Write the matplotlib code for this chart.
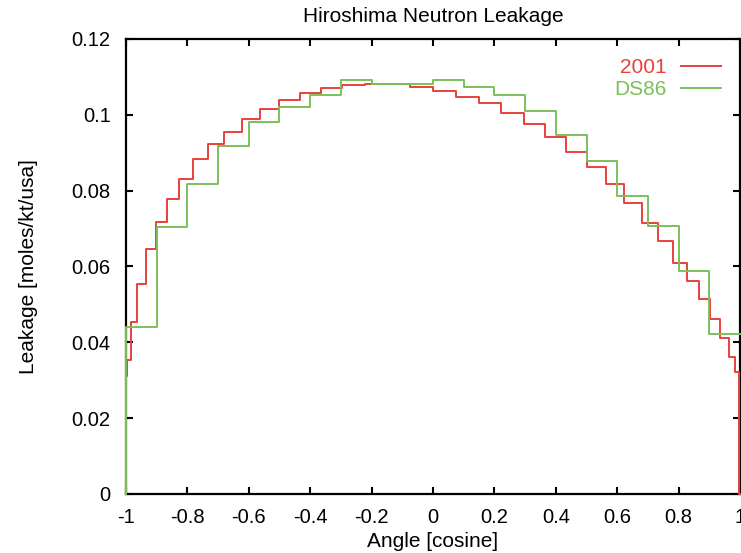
import matplotlib
matplotlib.use("Agg")
import matplotlib.pyplot as plt

# bin edges (cosine of angle) and leakage values
edges_2001 = [-1, -0.997, -0.982, -0.963, -0.935, -0.901, -0.866, -0.826, -0.782, -0.733,
              -0.680, -0.623, -0.563, -0.5, -0.434, -0.365, -0.295, -0.223, -0.149, -0.075,
              0, 0.075, 0.149, 0.223, 0.295, 0.365, 0.434, 0.5, 0.563, 0.623,
              0.680, 0.733, 0.782, 0.826, 0.866, 0.901, 0.935, 0.963, 0.982, 0.997, 1]
leak_2001 = [0.031, 0.0353, 0.0453, 0.0555, 0.0646, 0.0718, 0.0777, 0.0832, 0.0883, 0.0922,
             0.0956, 0.0988, 0.1015, 0.1038, 0.1058, 0.1070, 0.1078, 0.1082, 0.1082, 0.1073,
             0.1063, 0.1048, 0.1030, 0.1005, 0.0975, 0.0942, 0.0903, 0.0863, 0.0817, 0.0768,
             0.0716, 0.0667, 0.0610, 0.0563, 0.0513, 0.0461, 0.0411, 0.0362, 0.0323, 0.0]

edges_ds86 = [-1, -0.9, -0.8, -0.7, -0.6, -0.5, -0.4, -0.3, -0.2, -0.1,
              0, 0.1, 0.2, 0.3, 0.4, 0.5, 0.6, 0.7, 0.8, 0.9, 1]
leak_ds86 = [0.0441, 0.0703, 0.0817, 0.0919, 0.0981, 0.1021, 0.1052, 0.1093, 0.1082, 0.1082,
             0.1093, 0.1073, 0.1052, 0.1011, 0.0947, 0.0877, 0.0787, 0.0707, 0.0588, 0.0423]

xticks = [-1, -0.8, -0.6, -0.4, -0.2, 0, 0.2, 0.4, 0.6, 0.8, 1]
xticklabels = ["-1", "-0.8", "-0.6", "-0.4", "-0.2", "0", "0.2", "0.4", "0.6", "0.8", "1"]
yticks = [0, 0.02, 0.04, 0.06, 0.08, 0.1, 0.12]
yticklabels = ["0", "0.02", "0.04", "0.06", "0.08", "0.1", "0.12"]

red = "#e8423c"
green = "#7cc05a"

plt.rcParams["font.family"] = ["Liberation Sans", "DejaVu Sans"]

fig = plt.figure(figsize=(7.41, 5.53), dpi=100)
ax = fig.add_axes([0.170, 0.1067, 0.8287, 0.8228])


def hist_line(edges, values, color, label, z, close_right=True):
    # step outline that starts on the zero line, like gnuplot's histeps
    xs = [edges[0]] + list(edges)
    ys = [0] + list(values) + [0 if close_right else values[-1]]
    ax.step(xs, ys, where="post", color=color, linewidth=1.4, label=label,
            zorder=z, clip_on=False)


hist_line(edges_2001, leak_2001, red, "2001", 3)
hist_line(edges_ds86, leak_ds86, green, "DS86", 3.1, close_right=False)

ax.set_xlim(-1, 1)
ax.set_ylim(0, 0.12)
ax.set_xticks(xticks)
ax.set_xticklabels(xticklabels)
ax.set_yticks(yticks)
ax.set_yticklabels(yticklabels)
ax.tick_params(direction="in", length=5, width=1.5, top=True, right=True,
               labelsize=14.5, colors="black")
ax.tick_params(axis="y", pad=11)
ax.tick_params(axis="x", pad=10)
for s in ax.spines.values():
    s.set_linewidth(1.6)

ax.set_title("Hiroshima Neutron Leakage", fontsize=15, pad=12)
ax.set_xlabel("Angle [cosine]", fontsize=15, labelpad=4)
ax.set_ylabel("Leakage [moles/kt/usa]", fontsize=15, labelpad=24)

leg = ax.legend(loc="upper right", bbox_to_anchor=(0.969, 0.958), frameon=False,
                markerfirst=False, fontsize=15, handlelength=1.9, handletextpad=0.7,
                labelspacing=0.15, borderpad=0, borderaxespad=0)
for txt, c in zip(leg.get_texts(), [red, green]):
    txt.set_color(c)

fig.savefig("out.png", dpi=100)
